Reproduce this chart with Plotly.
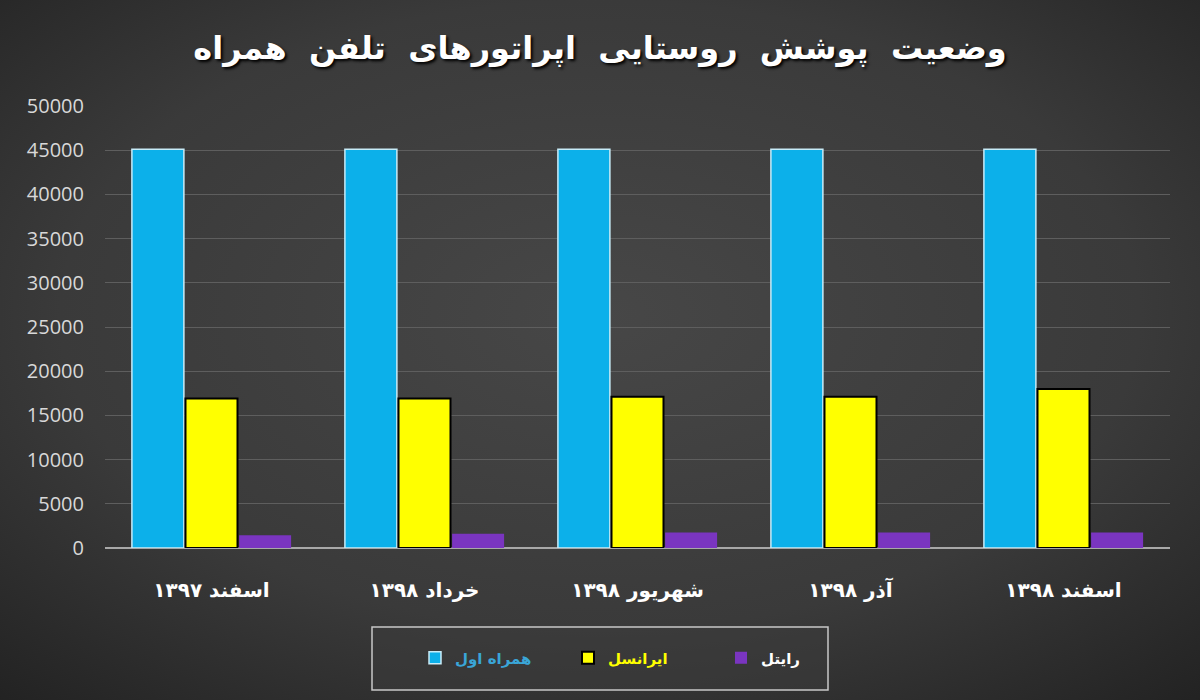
import base64
import plotly.graph_objects as go

categories = ["اسفند ۱۳۹۷", "خرداد ۱۳۹۸", "شهریور ۱۳۹۸", "آذر ۱۳۹۸", "اسفند ۱۳۹۸"]
hamrah_aval = [45100, 45100, 45100, 45100, 45100]
irancell = [16900, 16900, 17100, 17100, 18000]
rightel = [1450, 1600, 1750, 1750, 1750]
y_ticks = [0, 5000, 10000, 15000, 20000, 25000, 30000, 35000, 40000, 45000, 50000]
title_words = ["وضعیت", "پوشش", "روستایی", "اپراتورهای", "تلفن", "همراه"]
names = ["همراه اول", "ایرانسل", "رایتل"]

svg = ('<svg xmlns="http://www.w3.org/2000/svg" width="1200" height="700">'
       '<defs><radialGradient id="g" cx="50%" cy="45%" r="75%">'
       '<stop offset="0%" stop-color="#474747"/><stop offset="60%" stop-color="#3a3a3a"/>'
       '<stop offset="100%" stop-color="#222222"/></radialGradient></defs>'
       '<rect width="1200" height="700" fill="url(#g)"/></svg>')
bg_src = "data:image/svg+xml;base64," + base64.b64encode(svg.encode()).decode()

L, R, T, B = 105, 30, 106, 152
pw, ph = 1200 - L - R, 700 - T - B


def px_x(p):
    return (p - L) / pw


def px_y(p):
    return 1 - (p - T) / ph


fig = go.Figure()
fig.add_trace(go.Bar(
    x=categories, y=hamrah_aval,
    name='<span style="color:#3aa6d8">' + names[0] + '</span>',
    marker=dict(color="#0cb0ea", line=dict(color="#c8ecf8", width=1.5)),
))
fig.add_trace(go.Bar(
    x=categories, y=irancell,
    name='<span style="color:#ffff00">' + names[1] + '</span>',
    marker=dict(color="#ffff00", line=dict(color="#000000", width=2)),
))
fig.add_trace(go.Bar(
    x=categories, y=rightel,
    name='<span style="color:#ffffff">' + names[2] + '</span>',
    marker=dict(color="#7a35c0", line=dict(width=0)),
))

fig.update_layout(
    width=1200, height=700,
    margin=dict(l=L, r=R, t=T, b=B),
    paper_bgcolor="#363636",
    plot_bgcolor="rgba(0,0,0,0)",
    barmode="group",
    bargap=0.245,
    bargroupgap=0.03,
    title=dict(
        text="\u00a0\u00a0".join(title_words), x=0.5, xanchor="center", y=1 - 48 / 700, yanchor="middle",
        font=dict(family="DejaVu Sans", size=32, color="#ffffff", weight="bold",
                  shadow="2px 2px 3px #000000"),
    ),
    font=dict(family="DejaVu Sans"),
    showlegend=True,
    legend=dict(
        orientation="h", x=px_x(415), xanchor="left", y=px_y(658), yanchor="middle",
        bgcolor="rgba(0,0,0,0)", borderwidth=0,
        font=dict(family="DejaVu Sans", size=15, color="#ffffff", weight="bold"),
        entrywidth=108, itemwidth=30,
        traceorder="normal",
    ),
    shapes=[dict(
        type="rect", xref="paper", yref="paper",
        x0=px_x(372), x1=px_x(828), y0=px_y(690), y1=px_y(627),
        line=dict(color="#c8c8c8", width=1.5), fillcolor="rgba(60,60,60,0.5)",
        layer="below",
    )],
    images=[dict(
        source=bg_src, xref="paper", yref="paper",
        x=-L / pw, y=1 + T / ph, sizex=1200 / pw, sizey=700 / ph,
        xanchor="left", yanchor="top", sizing="stretch", layer="below",
    )],
)

fig.update_xaxes(
    tickfont=dict(family="DejaVu Sans", size=20, color="#ffffff", weight="bold"),
    ticklabelstandoff=28,
    showgrid=False, showline=False, zeroline=False,
)
fig.update_yaxes(
    range=[0, 50000], tickvals=y_ticks, ticktext=[str(v) for v in y_ticks],
    tickfont=dict(family="Open Sans", size=20, color="#d8d8d8"),
    ticklabelstandoff=20,
    showgrid=True, gridcolor="#5e5e5e", gridwidth=1,
    zeroline=True, zerolinecolor="#a8a8a8", zerolinewidth=2,
    showline=False,
)

fig.write_html("out.html", config={"displayModeBar": False},
               post_script="document.body.style.margin='0px';")
